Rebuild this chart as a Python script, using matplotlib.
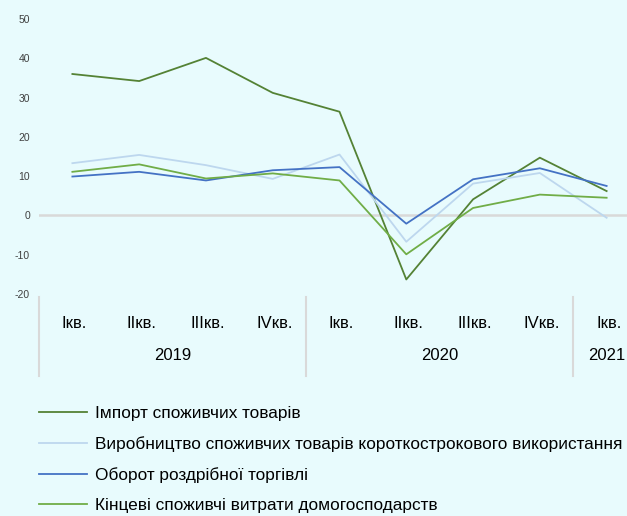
import matplotlib.pyplot as plt
import matplotlib.transforms as mtransforms

plt.rcParams['font.family'] = ['Liberation Sans', 'DejaVu Sans']
plt.rcParams['axes.unicode_minus'] = False

quarters = ['Ікв.', 'IIкв.', 'IIIкв.', 'IVкв.', 'Ікв.', 'IIкв.', 'IIIкв.', 'IVкв.', 'Ікв.']
years = ['2019', '2020', '2021']
year_spans = [(0, 3), (4, 7), (8, 8)]

imports = [36.0, 34.2, 40.1, 31.2, 26.4, -16.3, 4.1, 14.7, 6.2]
production = [13.3, 15.4, 12.8, 9.3, 15.5, -6.7, 8.1, 10.8, -0.6]
retail = [9.9, 11.1, 8.9, 11.5, 12.3, -2.1, 9.2, 12.0, 7.5]
households = [11.1, 13.0, 9.4, 10.7, 8.9, -9.9, 1.9, 5.3, 4.5]

labels = ['Імпорт споживчих товарів',
          'Виробництво споживчих товарів короткострокового використання',
          'Оборот роздрібної торгівлі',
          'Кінцеві споживчі витрати домогосподарств']
colors = ['#548235', '#BDD7EE', '#4472C4', '#70AD47']

bg = '#E8FBFD'
fig = plt.figure(figsize=(6.27, 5.16), dpi=100, facecolor=bg)
W, H = 627, 516
ax = fig.add_axes([39 / W, 1 - 294 / H, 1 - 39 / W, (294 - 19) / H])
ax.set_facecolor(bg)

x = range(len(quarters))
for ys, c, lab in zip([imports, production, retail, households], colors, labels):
    ax.plot(x, ys, color=c, lw=1.3, label=lab)

ax.axhline(0, color='#D9D9D9', lw=1.8, zorder=0)
ax.set_ylim(-20, 50)
ax.set_yticks(range(-20, 51, 10))
ax.set_xlim(-0.5, 8.5 - 13 / 66.7)
ax.set_xticks([])
for s in ax.spines.values():
    s.set_visible(False)
ax.tick_params(axis='y', length=0, labelsize=7.5, labelcolor='#404040', pad=6.5)

# category axis below the plot
trans = mtransforms.blended_transform_factory(ax.transData, fig.transFigure)
for i, q in enumerate(quarters):
    ax.text(i + 0.03, 1 - 323 / H, q, transform=trans, ha='center', va='center',
            fontsize=12, color='#000000', clip_on=False)
for (a, b), yr in zip(year_spans, years):
    ax.text((a + b) / 2, 1 - 355 / H, yr, transform=trans, ha='center', va='center',
            fontsize=12, color='#000000', clip_on=False)
for a, b in year_spans:
    ax.plot([a - 0.5, a - 0.5], [1 - 297 / H, 1 - 376 / H], transform=trans,
            color='#D9D9D9', lw=1.5, clip_on=False)

fig.legend(loc='upper left', bbox_to_anchor=(32 / W, 1 - 399 / H), frameon=False,
           fontsize=12.4, handlelength=2.8, handletextpad=0.45, labelspacing=0.88,
           borderaxespad=0)

fig.savefig('out.png', dpi=100, facecolor=bg)
